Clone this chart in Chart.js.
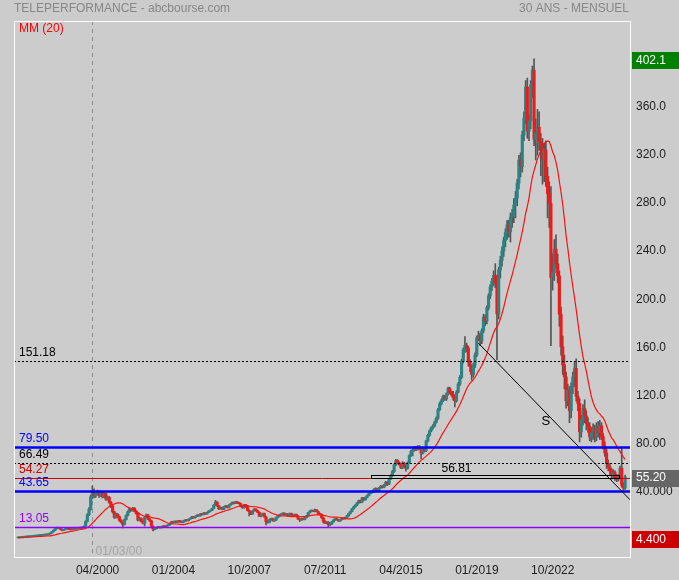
<!DOCTYPE html>
<html><head><meta charset="utf-8">
<script src="https://cdn.jsdelivr.net/npm/chart.js@4.4.1/dist/chart.umd.min.js"></script>
<style>html,body{margin:0;padding:0;background:#cccccc;}canvas{display:block;}</style>
</head><body>
<canvas id="c" width="679" height="580"></canvas>
<script>
// ---------- DATA (monthly, 07/1996 -> 07/2026) ----------
const firstDataMonth = '07/1996';
const opens = [
4.4,4.6,4.7,4.8,5.0,5.1,
5.3,5.4,5.5,5.7,5.8,5.9,6.1,6.3,6.5,6.6,6.8,6.9,
7.1,7.6,8.4,9.5,10.8,12.0,12.8,12.3,11.5,10.6,11.2,11.8,
12.0,11.6,11.2,11.8,12.2,11.9,12.4,12.8,12.5,13.2,14.0,18.0,
23.5,28.0,38.5,43.0,39.5,41.5,42.5,39.5,42.0,38.5,41.0,36.5,
38.0,34.0,31.0,26.0,21.5,24.0,22.0,19.0,17.5,15.5,19.5,23.0,
26.0,28.5,27.0,29.0,26.5,24.5,19.0,20.5,18.0,16.5,21.5,23.5,
20.0,18.5,14.0,11.5,12.0,13.0,13.5,12.8,13.6,14.2,13.8,14.5,
15.2,16.5,17.8,17.0,18.2,17.4,18.6,17.8,17.2,18.4,19.2,18.6,
19.8,20.6,21.8,21.0,22.2,23.2,22.6,24.2,23.6,25.0,24.2,25.4,
26.6,27.2,28.8,31.5,34.0,31.0,28.5,29.5,28.0,30.2,30.8,29.5,
31.6,32.6,33.8,33.0,34.2,33.4,32.8,30.6,29.4,31.8,30.2,27.2,
26.0,24.2,26.8,28.2,27.0,25.6,22.4,23.2,24.6,21.8,17.8,17.2,
19.6,20.4,18.6,19.2,21.2,22.6,23.4,24.2,24.8,23.6,24.2,22.8,
24.6,23.6,22.8,23.8,22.6,20.0,19.2,20.6,19.6,21.2,22.6,25.2,
26.6,27.0,26.4,27.6,26.2,24.6,23.8,21.0,18.2,16.8,17.4,15.2,
15.8,17.6,19.2,20.2,19.4,18.4,19.6,20.6,20.2,21.2,22.6,24.6,
26.2,28.6,30.2,31.6,33.4,35.2,34.0,37.6,36.0,38.0,39.6,41.2,
42.2,42.6,44.6,45.2,43.8,45.8,47.2,46.4,48.2,50.6,49.0,53.4,
56.0,59.5,65.0,68.5,66.8,65.2,62.6,66.4,64.2,62.0,66.8,72.6,
76.2,77.4,79.6,77.8,80.2,78.4,74.6,78.8,76.6,84.8,89.6,93.2,
95.8,97.2,100.4,103.6,110.8,115.6,118.2,121.8,119.6,123.8,128.4,125.2,
123.4,120.6,118.2,125.4,132.0,137.6,151.0,160.4,164.2,162.0,150.4,146.6,
139.8,147.8,156.2,170.4,172.6,167.8,176.4,187.6,184.2,195.4,205.2,212.6,
217.4,222.4,216.0,190.2,226.8,234.6,242.4,251.0,257.8,264.2,258.4,270.6,
272.4,280.6,286.4,298.8,318.0,312.4,338.6,352.8,378.6,342.0,350.4,380.2,
392.6,335.2,340.6,345.2,333.4,329.8,318.2,326.4,304.6,290.0,282.0,220.4,
224.6,244.0,232.0,222.0,190.0,163.0,148.0,138.0,118.0,127.0,110.0,130.0,
138.0,145.0,122.0,116.0,92.4,102.6,111.8,105.6,99.2,97.0,88.2,91.6,
95.4,88.0,96.8,92.0,97.4,88.4,80.6,74.8,66.0,63.4,60.2,56.4,
59.0,54.6,53.0,55.0,62.2,48.0,45.8];
const highs = [
4.7,4.8,4.9,5.1,5.2,5.4,
5.5,5.6,5.8,5.9,6.0,6.2,6.4,6.6,6.8,6.9,7.0,7.3,
7.8,8.6,9.8,11.1,12.4,13.4,13.1,12.6,11.8,11.5,12.1,12.4,
12.3,11.9,12.1,12.5,12.4,12.7,13.1,13.0,13.5,14.4,18.6,24.5,
29.5,40.0,47.5,45.0,43.0,44.0,43.5,43.2,42.8,42.0,41.8,39.0,
38.8,34.8,31.5,26.5,25.0,24.6,22.5,19.5,18.0,20.0,23.5,26.8,
29.2,29.0,29.8,29.5,27.0,25.0,21.5,21.0,18.5,22.0,24.2,23.8,
20.6,19.0,14.5,12.6,13.4,14.0,13.9,14.0,14.6,14.6,14.9,15.6,
16.9,18.2,18.2,18.6,18.5,18.9,18.9,18.0,18.8,19.6,19.5,20.2,
21.0,22.2,22.1,22.6,23.6,23.5,24.6,24.5,25.4,25.3,25.8,27.0,
27.6,29.2,32.0,35.5,34.4,31.4,30.0,29.8,30.6,31.3,31.2,32.0,
33.0,34.2,34.2,34.8,34.6,33.8,33.2,31.0,32.2,32.2,30.6,27.6,
26.5,27.2,28.8,28.6,27.4,26.0,23.8,25.0,25.0,22.2,18.6,20.0,
20.8,20.8,19.6,21.6,23.0,23.8,24.6,25.2,25.2,24.6,24.6,25.0,
25.0,24.0,24.2,24.2,23.0,20.4,21.0,21.0,21.6,23.0,25.6,27.0,
27.6,27.4,28.3,27.9,26.6,25.0,24.2,21.4,18.8,17.9,17.8,16.4,
18.0,19.6,20.6,20.6,19.8,19.9,21.0,20.8,21.6,23.0,25.0,26.6,
29.0,30.7,32.0,33.9,35.8,35.6,38.0,38.0,38.5,40.0,41.6,42.8,
43.4,45.2,46.0,45.6,46.4,47.8,47.8,48.8,51.2,51.2,54.0,56.8,
60.4,65.8,69.6,69.4,67.6,66.0,67.6,67.0,64.8,67.4,73.4,77.2,
78.6,80.4,80.2,81.0,81.0,79.0,79.6,79.4,85.6,90.4,94.0,96.6,
98.4,101.4,104.8,112.0,117.0,119.6,123.0,122.6,124.8,129.6,129.4,126.4,
126.0,123.0,126.6,133.4,139.0,152.6,162.0,171.4,166.0,163.4,152.4,148.0,
149.6,158.0,172.0,176.0,174.4,178.0,190.0,189.6,197.0,207.0,214.6,219.8,
226,232,222,229,238,246,254,261,268,268,274,277,
286,292,302,322,324,342,358,384,386,356,384,396,
402.1,352,360,358,340,336,332,334,312,300,296,240,
252,256,240,226,196,172,156,142,132,130,133,142,
150,153,126,120,106,115,119,110,104,100,96,99,
98,100,101,102,100,91,84,78,69,66,62,61,
60,57,57,64,78.8,50,56.5];
const lows = [
4.4,4.5,4.6,4.7,4.9,5.0,
5.2,5.3,5.4,5.6,5.7,5.8,6.0,6.2,6.4,6.5,6.7,6.8,
7.0,7.5,8.3,9.4,10.6,11.8,12.0,11.2,10.2,10.4,11.0,11.5,
11.3,10.9,11.0,11.6,11.6,11.7,12.2,12.2,12.3,13.0,13.8,17.5,
22.8,27.5,37.0,37.5,38.0,40.0,38.0,38.8,37.5,37.8,35.5,35.8,
33.0,29.5,25.0,20.5,20.8,21.0,18.2,16.8,12.6,15.0,19.0,22.5,
25.5,26.5,26.6,26.0,24.0,18.4,18.6,17.5,16.0,14.3,21.0,19.5,
18.0,13.5,10.1,11.0,11.8,12.7,12.5,12.5,13.4,13.5,13.5,14.2,
15.0,16.2,16.7,16.8,17.1,17.2,17.5,16.9,16.9,18.1,18.3,18.4,
19.6,20.4,20.7,20.8,22.0,22.3,22.4,23.3,23.4,23.9,24.0,25.2,
26.3,27.0,28.5,31.2,30.5,27.8,28.2,27.6,27.7,29.8,29.2,29.2,
31.3,32.3,32.6,32.8,33.0,32.4,30.2,28.8,29.0,29.8,26.8,22.6,
23.6,23.9,26.4,26.6,25.2,22.0,21.8,22.9,21.4,15.1,16.6,16.8,
19.2,18.2,18.0,18.9,20.9,22.3,23.1,23.9,23.3,23.3,22.5,22.5,
23.3,22.5,22.5,22.3,19.6,18.0,18.9,19.2,19.3,20.9,22.3,24.9,
26.2,26.0,26.0,25.9,24.2,23.4,20.6,16.6,16.2,16.1,13.2,14.8,
15.4,17.3,18.9,19.1,18.1,18.1,19.3,19.9,19.9,20.9,22.3,24.3,
25.9,28.2,29.8,31.2,33.0,33.4,33.7,35.5,35.6,37.6,39.2,40.8,
41.6,42.2,44.0,43.0,43.2,45.4,45.8,45.8,47.6,47.8,48.6,52.8,
55.4,58.8,64.4,66.0,64.6,61.8,61.8,62.6,59.8,61.4,66.2,72.0,
72.4,76.4,76.8,77.2,77.6,70.0,74.0,75.6,76.0,84.0,88.6,92.4,
94.6,96.4,99.6,102.8,109.8,114.6,117.4,118.6,118.4,122.8,124.0,122.0,
118.6,113.0,117.0,124.6,130.8,136.6,149.4,158.4,158.6,147.0,142.4,135.4,
137.6,145.6,154.8,168.0,164.0,165.6,174.8,180.4,182.0,193.6,203.0,209.6,
214,212,152,186,220,230,238,246,252,254,250,262,
266,270,280,294,304,308,334,348,336,334,344,370,
330,318,322,326,305,298,300,296,270,262,164,210,
218,228,216,180,156,140,128,112,114,100,104,124,
130,118,110,84,88,98,100,94,92,85,84,86,
84,85,88,86,86,78,72,62,60,57,53,54,
52,51,51.5,53.5,46.5,43.8,44.6];
const closes = [
4.6,4.7,4.8,5.0,5.1,5.3,
5.4,5.5,5.7,5.8,5.9,6.1,6.3,6.5,6.6,6.8,6.9,7.1,
7.6,8.4,9.5,10.8,12.0,12.8,12.3,11.5,10.6,11.2,11.8,12.0,
11.6,11.2,11.8,12.2,11.9,12.4,12.8,12.5,13.2,14.0,18.0,23.5,
28.0,38.5,43.0,39.5,41.5,42.5,39.5,42.0,38.5,41.0,36.5,38.0,
34.0,31.0,26.0,21.5,24.0,22.0,19.0,17.5,15.5,19.5,23.0,26.0,
28.5,27.0,29.0,26.5,24.5,19.0,20.5,18.0,16.5,21.5,23.5,20.0,
18.5,14.0,11.5,12.0,13.0,13.5,12.8,13.6,14.2,13.8,14.5,15.2,
16.5,17.8,17.0,18.2,17.4,18.6,17.8,17.2,18.4,19.2,18.6,19.8,
20.6,21.8,21.0,22.2,23.2,22.6,24.2,23.6,25.0,24.2,25.4,26.6,
27.2,28.8,31.5,34.0,31.0,28.5,29.5,28.0,30.2,30.8,29.5,31.6,
32.6,33.8,33.0,34.2,33.4,32.8,30.6,29.4,31.8,30.2,27.2,26.0,
24.2,26.8,28.2,27.0,25.6,22.4,23.2,24.6,21.8,17.8,17.2,19.6,
20.4,18.6,19.2,21.2,22.6,23.4,24.2,24.8,23.6,24.2,22.8,24.6,
23.6,22.8,23.8,22.6,20.0,19.2,20.6,19.6,21.2,22.6,25.2,26.6,
27.0,26.4,27.6,26.2,24.6,23.8,21.0,18.2,16.8,17.4,15.2,15.8,
17.6,19.2,20.2,19.4,18.4,19.6,20.6,20.2,21.2,22.6,24.6,26.2,
28.6,30.2,31.6,33.4,35.2,34.0,37.6,36.0,38.0,39.6,41.2,42.2,
42.6,44.6,45.2,43.8,45.8,47.2,46.4,48.2,50.6,49.0,53.4,56.0,
59.5,65.0,68.5,66.8,65.2,62.6,66.4,64.2,62.0,66.8,72.6,76.2,
77.4,79.6,77.8,80.2,78.4,74.6,78.8,76.6,84.8,89.6,93.2,95.8,
97.2,100.4,103.6,110.8,115.6,118.2,121.8,119.6,123.8,128.4,125.2,123.4,
120.6,118.2,125.4,132.0,137.6,151.0,160.4,164.2,162.0,150.4,146.6,139.8,
147.8,156.2,170.4,172.6,167.8,176.4,187.6,184.2,195.4,205.2,212.6,217.4,
222.4,216.0,190.2,226.8,234.6,242.4,251.0,257.8,264.2,258.4,270.6,272.4,
280.6,286.4,298.8,318.0,312.4,338.6,352.8,378.6,342.0,350.4,380.2,392.6,
335.2,340.6,345.2,333.4,329.8,318.2,326.4,304.6,290.0,282.0,220.4,224.6,
244.0,232.0,222.0,190.0,163.0,148.0,138.0,118.0,127.0,110.0,130.0,138.0,
145.0,122.0,116.0,92.4,102.6,111.8,105.6,99.2,97.0,88.2,91.6,95.4,
88.0,96.8,92.0,97.4,88.4,80.6,74.8,66.0,63.4,60.2,56.4,59.0,
54.6,53.0,55.0,62.2,48.0,45.8,55.2];
const ma20 = [
4.3,4.4,4.5,4.6,4.7,4.8,
4.9,5.0,5.1,5.2,5.3,5.4,5.5,5.6,5.7,5.8,5.9,6.0,
6.0,6.0,6.3,6.6,6.9,7.3,7.7,8.0,8.2,8.5,8.8,9.1,
9.4,9.7,10.0,10.2,10.5,10.8,11.1,11.3,11.6,11.9,12.3,13.0,
13.8,15.1,16.6,18.0,19.5,21.1,22.5,24.0,25.3,26.8,28.1,29.3,
30.4,31.4,32.0,32.5,33.0,33.4,33.5,33.2,32.6,31.6,30.6,29.9,
29.3,28.5,28.0,27.2,26.5,25.4,24.6,23.6,22.7,22.3,22.1,22.1,
21.8,21.4,21.0,20.7,20.6,20.3,19.8,19.2,18.5,17.8,17.1,16.5,
16.1,16.1,15.9,15.9,15.9,15.8,15.5,15.4,15.4,15.6,16.0,16.4,
16.7,17.2,17.6,18.0,18.4,18.9,19.4,19.8,20.2,20.5,21.0,21.4,
21.9,22.4,23.1,23.9,24.5,25.0,25.5,26.0,26.4,26.9,27.3,27.8,
28.2,28.8,29.2,29.8,30.2,30.6,30.9,31.0,31.3,31.3,31.1,30.7,
30.4,30.3,30.2,30.2,29.9,29.5,29.2,28.9,28.3,27.5,26.7,26.0,
25.3,24.6,24.1,23.7,23.2,22.9,22.7,22.6,22.6,22.5,22.2,22.1,
22.0,22.0,22.0,21.9,21.9,21.9,22.1,22.1,22.1,22.3,22.6,22.9,
23.1,23.3,23.4,23.5,23.6,23.5,23.5,23.1,22.8,22.5,22.1,21.8,
21.6,21.6,21.6,21.6,21.5,21.3,21.1,20.8,20.5,20.3,20.1,20.1,
20.3,20.7,21.2,21.9,22.9,23.7,24.8,25.8,26.8,27.9,28.9,30.1,
31.3,32.5,33.7,34.9,36.2,37.4,38.5,39.6,40.7,41.6,42.7,43.8,
45.1,46.6,48.1,49.7,51.0,52.2,53.5,54.6,55.5,56.6,58.0,59.6,
61.2,62.8,64.4,66.0,67.4,68.7,69.9,71.0,72.2,73.5,74.7,76.1,
77.7,79.6,81.5,83.8,86.5,89.1,91.5,93.7,96.0,98.5,100.8,103.0,
105.1,107.3,109.6,112.4,115.0,118.1,121.5,124.9,128.1,130.6,132.8,134.2,
135.8,137.7,140.2,142.8,145.0,147.4,150.5,153.6,157.3,161.7,166.0,170.3,
174.5,177.8,179.3,182.4,186.0,190.6,195.8,201.7,207.6,212.7,217.7,222.7,
228.3,233.8,239.4,246.1,251.9,258.6,265.6,273.7,279.6,286.4,295.9,304.1,
309.2,314.1,318.8,322.6,325.9,328.8,331.6,333.2,333.7,333.5,329.6,324.9,
321.5,316.2,309.6,300.2,291.2,281.1,269.0,255.3,244.9,233.3,222.6,212.8,
203.6,193.8,183.2,172.6,163.3,154.7,149.0,142.7,135.4,128.2,121.7,116.9,
113.2,110.6,108.3,107.3,105.4,103.9,101.1,97.5,93.5,90.4,87.4,85.7,
83.3,80.4,77.9,76.0,73.6,71.4,69.6];

// x tick labels, y ticks
const xTickLabels = ['04/2000','01/2004','10/2007','07/2011','04/2015','01/2019','10/2022'];
const yTickValues = [40,80,120,160,200,240,280,320,360];
const yTickLabels = ['40.000','80.00','120.0','160.0','200.0','240.0','280.0','320.0','360.0'];

// horizontal levels
const levelValues = [151.18, 79.50, 66.49, 54.27, 43.65, 13.05];
const levelTexts  = ['151.18','79.50','66.49','54.27','43.65','13.05'];
// annotations
const markerMonth = '03/2000', markerText = '01/03/00';
const boxFrom = '12/2013', boxTo = '03/2026', boxTop = 56.81, boxBottom = 54.27, boxLabelMonth = '03/2018';
const trendFrom = ['04/2019', 166.0], trendTo = ['10/2026', 35.9], trendLabel = ['08/2022', 101, 'S'];

// axis categories: monthly slots 05/1996 .. 10/2026
const axisMonths = [];
for (let i = 0; i < 366; i++) {
  const m = (4 + i) % 12 + 1, yr = 1996 + Math.floor((4 + i) / 12);
  axisMonths.push(String(m).padStart(2, '0') + '/' + yr);
}
const off = axisMonths.indexOf(firstDataMonth);
const at = (arr, i) => { const k = i - off; return (k >= 0 && k < arr.length) ? arr[k] : null; };

// ---------- STYLE ----------
const FONT = '"Liberation Sans", Arial, Helvetica, sans-serif';
const UP = '#2a8484', DOWN = '#ee1b1b', WICK = '#555555';
const levelColors = ['#000000','#0000ff','#000000','#cc0000','#0000ff','#9000ff'];
const levelWidths = [1, 2.5, 1, 1, 2.5, 1.5];
const levelDash   = [[2,2], [], [2,2], [], [], []];

const wickData = axisMonths.map((m, i) => { const l = at(lows, i), h = at(highs, i); return l === null ? null : [l, h]; });
const bodyData = axisMonths.map((m, i) => { const o = at(opens, i), c = at(closes, i); return o === null ? null : [o, c]; });
const bodyColors = axisMonths.map((m, i) => { const o = at(opens, i), c = at(closes, i); return (o !== null && c >= o) ? UP : DOWN; });
const maData = axisMonths.map((m, i) => at(ma20, i));

const overlay = {
  id: 'overlay',
  beforeDatasetsDraw(chart) {
    const { ctx, chartArea: a, scales: { x } } = chart;
    ctx.save();
    const vx = Math.round(x.getPixelForValue(axisMonths.indexOf(markerMonth))) + 0.5;
    ctx.strokeStyle = '#8e8e8e'; ctx.lineWidth = 1; ctx.setLineDash([4, 4]);
    ctx.beginPath(); ctx.moveTo(vx, a.top); ctx.lineTo(vx, a.bottom); ctx.stroke();
    ctx.setLineDash([]);
    ctx.font = '12px ' + FONT; ctx.fillStyle = '#a4a4a4'; ctx.textBaseline = 'middle'; ctx.textAlign = 'left';
    ctx.fillText(markerText, vx + 3, a.bottom - 5.5);
    ctx.restore();
  },
  afterDatasetsDraw(chart) {
    const { ctx, chartArea: a, scales: { x, y } } = chart;
    const W = chart.width;
    ctx.save();
    ctx.font = '12px ' + FONT; ctx.textBaseline = 'middle'; ctx.textAlign = 'left';
    levelValues.forEach((v, i) => {
      const yy = Math.round(y.getPixelForValue(v)) + 0.5;
      ctx.strokeStyle = levelColors[i]; ctx.lineWidth = levelWidths[i]; ctx.setLineDash(levelDash[i]);
      ctx.beginPath(); ctx.moveTo(a.left, yy); ctx.lineTo(a.right, yy); ctx.stroke();
      ctx.setLineDash([]);
      ctx.fillStyle = levelColors[i];
      ctx.fillText(levelTexts[i], a.left + 5, yy - 9);
    });
    const bx1 = x.getPixelForValue(axisMonths.indexOf(boxFrom)), bx2 = x.getPixelForValue(axisMonths.indexOf(boxTo));
    const by1 = Math.round(y.getPixelForValue(boxTop)) + 0.5, by2 = Math.round(y.getPixelForValue(boxBottom)) + 0.5;
    ctx.strokeStyle = '#000'; ctx.lineWidth = 1;
    ctx.strokeRect(Math.round(bx1) + 0.5, by1, Math.round(bx2 - bx1), by2 - by1);
    ctx.fillStyle = '#000'; ctx.textAlign = 'center';
    ctx.fillText(boxTop.toFixed(2), x.getPixelForValue(axisMonths.indexOf(boxLabelMonth)), by1 - 6.5);
    ctx.save();
    ctx.beginPath(); ctx.rect(a.left, a.top, a.right - a.left, a.bottom - a.top); ctx.clip();
    ctx.strokeStyle = '#000'; ctx.lineWidth = 1;
    ctx.beginPath();
    ctx.moveTo(x.getPixelForValue(axisMonths.indexOf(trendFrom[0])), y.getPixelForValue(trendFrom[1]));
    ctx.lineTo(x.getPixelForValue(axisMonths.indexOf(trendTo[0])), y.getPixelForValue(trendTo[1]));
    ctx.stroke();
    ctx.restore();
    ctx.font = '13px ' + FONT; ctx.fillStyle = '#000'; ctx.textAlign = 'center';
    ctx.fillText(trendLabel[2], x.getPixelForValue(axisMonths.indexOf(trendLabel[0])), y.getPixelForValue(trendLabel[1]));
    ctx.strokeStyle = '#ffffff'; ctx.lineWidth = 1;
    ctx.strokeRect(a.left + 0.5, a.top + 0.5, a.right - a.left - 1, a.bottom - a.top);
    const boxes = [
      [Math.max(...highs), '#008000'],
      [closes[closes.length - 1], '#666666'],
      [Math.min(...lows), '#cc0000']
    ];
    ctx.font = '12px ' + FONT; ctx.textAlign = 'left';
    boxes.forEach(([v, col]) => {
      const yy = y.getPixelForValue(v) + 1.5;
      ctx.fillStyle = col; ctx.fillRect(a.right + 1, Math.round(yy - 8.5), W - a.right - 1, 17);
      ctx.fillStyle = '#ffffff'; ctx.fillText(v.toPrecision(4), a.right + 5, yy);
    });
    ctx.restore();
  },
  afterDraw(chart) {
    const { ctx, chartArea: a } = chart;
    ctx.save();
    ctx.font = '12px ' + FONT; ctx.textBaseline = 'middle';
    ctx.fillStyle = '#878787'; ctx.textAlign = 'left';
    ctx.fillText('TELEPERFORMANCE - abcbourse.com', a.left, 9);
    ctx.textAlign = 'right';
    ctx.fillText('30 ANS - MENSUEL', a.right - 2, 9);
    ctx.fillStyle = '#ff0000'; ctx.textAlign = 'left';
    ctx.fillText('MM (20)', a.left + 5, 29);
    ctx.restore();
  }
};

new Chart(document.getElementById('c'), {
  type: 'bar',
  data: {
    labels: axisMonths,
    datasets: [
      { type: 'line', label: 'MM (20)', data: maData, borderColor: '#ff1010', borderWidth: 1.2, pointRadius: 0, tension: 0, order: 0, spanGaps: false },
      { label: 'body', data: bodyData, backgroundColor: bodyColors, barThickness: 2.5, minBarLength: 1, grouped: false, order: 1, borderWidth: 0 },
      { label: 'wick', data: wickData, backgroundColor: WICK, barThickness: 1, grouped: false, order: 2, borderWidth: 0 }
    ]
  },
  options: {
    responsive: false, animation: false, devicePixelRatio: 1,
    layout: { padding: { left: 14, top: 21, right: 0, bottom: 0 } },
    plugins: { legend: { display: false }, tooltip: { enabled: false } },
    scales: {
      x: {
        type: 'category', offset: true,
        grid: { display: false, drawTicks: false }, border: { display: false },
        ticks: {
          autoSkip: false, maxRotation: 0, minRotation: 0, padding: 6, labelOffset: 3.5,
          color: '#1e1e1e', font: { family: FONT, size: 12 },
          callback(v) { const l = this.getLabelForValue(v); return xTickLabels.includes(l) ? l : ''; }
        },
        afterFit(s) { s.height = 23; }
      },
      y: {
        position: 'right', min: -11.5, max: 433.4,
        grid: { display: false, drawTicks: false }, border: { display: false },
        afterBuildTicks(s) { s.ticks = yTickValues.map(v => ({ value: v })); },
        ticks: {
          padding: 5, labelOffset: -3, color: '#1e1e1e', font: { family: FONT, size: 12 },
          callback(v) { const i = yTickValues.indexOf(v); return i >= 0 ? yTickLabels[i] : ''; }
        },
        afterFit(s) { s.width = 48; }
      }
    }
  },
  plugins: [overlay]
});
</script>
</body></html>
